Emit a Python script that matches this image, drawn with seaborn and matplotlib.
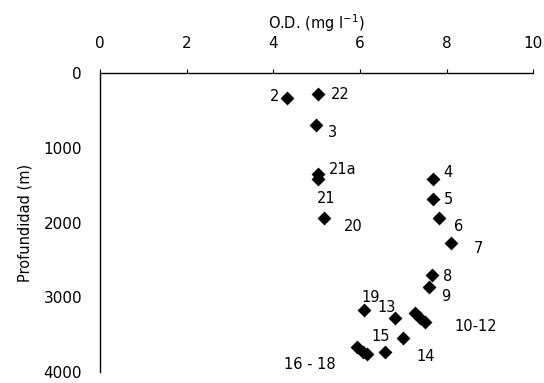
import matplotlib
matplotlib.use('Agg')
import matplotlib.pyplot as plt
import seaborn as sns
import pandas as pd

# stations: dissolved oxygen (mg/l) vs depth (m)
station = ['2', '22', '3', '21a', '21', '20', '4', '5', '6', '7', '8', '9',
           '10', '11', '12', '13', '14', '15', '19', '16', '17', '18']
oxygen = [4.32, 5.03, 4.99, 5.03, 5.03, 5.17, 7.69, 7.69, 7.83, 8.10, 7.67, 7.60,
          7.27, 7.39, 7.50, 6.81, 7.00, 6.58, 6.10, 5.93, 6.07, 6.17]
depth = [335, 281, 696, 1350, 1420, 1940, 1420, 1690, 1940, 2280, 2700, 2865,
         3210, 3280, 3330, 3280, 3550, 3735, 3170, 3670, 3735, 3760]

# labels drawn next to the markers (text, anchor station index)
label_text = ['2', '22', '3', '21a', '21', '20', '4', '5', '6', '7', '8', '9',
              '10-12', '13', '14', '15', '19', '16 - 18']
label_anchor = [0, 1, 2, 3, 4, 5, 6, 7, 8, 9, 10, 11, 13, 15, 16, 17, 18, 20]
label_offset = [(-9, 1), (16, 0), (12, -5), (18, 3), (6, -14), (21, -6),
                (11, 5), (11, 0), (14, -6), (20, -4), (11, -1), (12, -7),
                (40, -6), (-6, 8), (16, -13), (-3, 11), (5, 9), (-38, -9)]

df = pd.DataFrame({'station': station, 'od': oxygen, 'depth': depth})

sns.set_style('white')
plt.rcParams['font.family'] = ['DejaVu Sans']
plt.rcParams.update({'text.color': 'black', 'axes.labelcolor': 'black',
                     'xtick.color': 'black', 'ytick.color': 'black'})

fig = plt.figure(figsize=(5.44, 3.83), dpi=100)
ax = fig.add_axes([0.184, 0.029, 0.796, 0.78])

sns.scatterplot(data=df, x='od', y='depth', marker='D', color='black',
                s=50, edgecolor='black', linewidth=0, ax=ax, legend=False)

for txt, idx, (dx, dy) in zip(label_text, label_anchor, label_offset):
    ax.annotate(txt, (oxygen[idx], depth[idx]), xytext=(dx, dy),
                textcoords='offset points', ha='center', va='center',
                fontsize=10.5, color='black')

ax.set_xlim(0, 10)
ax.set_ylim(4000, 0)
ax.set_xticks([0, 2, 4, 6, 8, 10])
ax.set_yticks([0, 1000, 2000, 3000, 4000])
ax.xaxis.tick_top()
ax.xaxis.set_label_position('top')
ax.set_xlabel('O.D. (mg l$^{-1}$)', fontsize=10.5, labelpad=5)
ax.set_ylabel('Profundidad (m)', fontsize=10.5, labelpad=8)
ax.tick_params(axis='x', labelsize=11, length=3, pad=13, colors='black', direction='out')
ax.tick_params(axis='y', labelsize=11, length=3, pad=10, colors='black', direction='out')

for side in ['right', 'bottom']:
    ax.spines[side].set_visible(False)
for side in ['left', 'top']:
    ax.spines[side].set_color('black')
    ax.spines[side].set_linewidth(1)

fig.savefig('out.png', dpi=100)
